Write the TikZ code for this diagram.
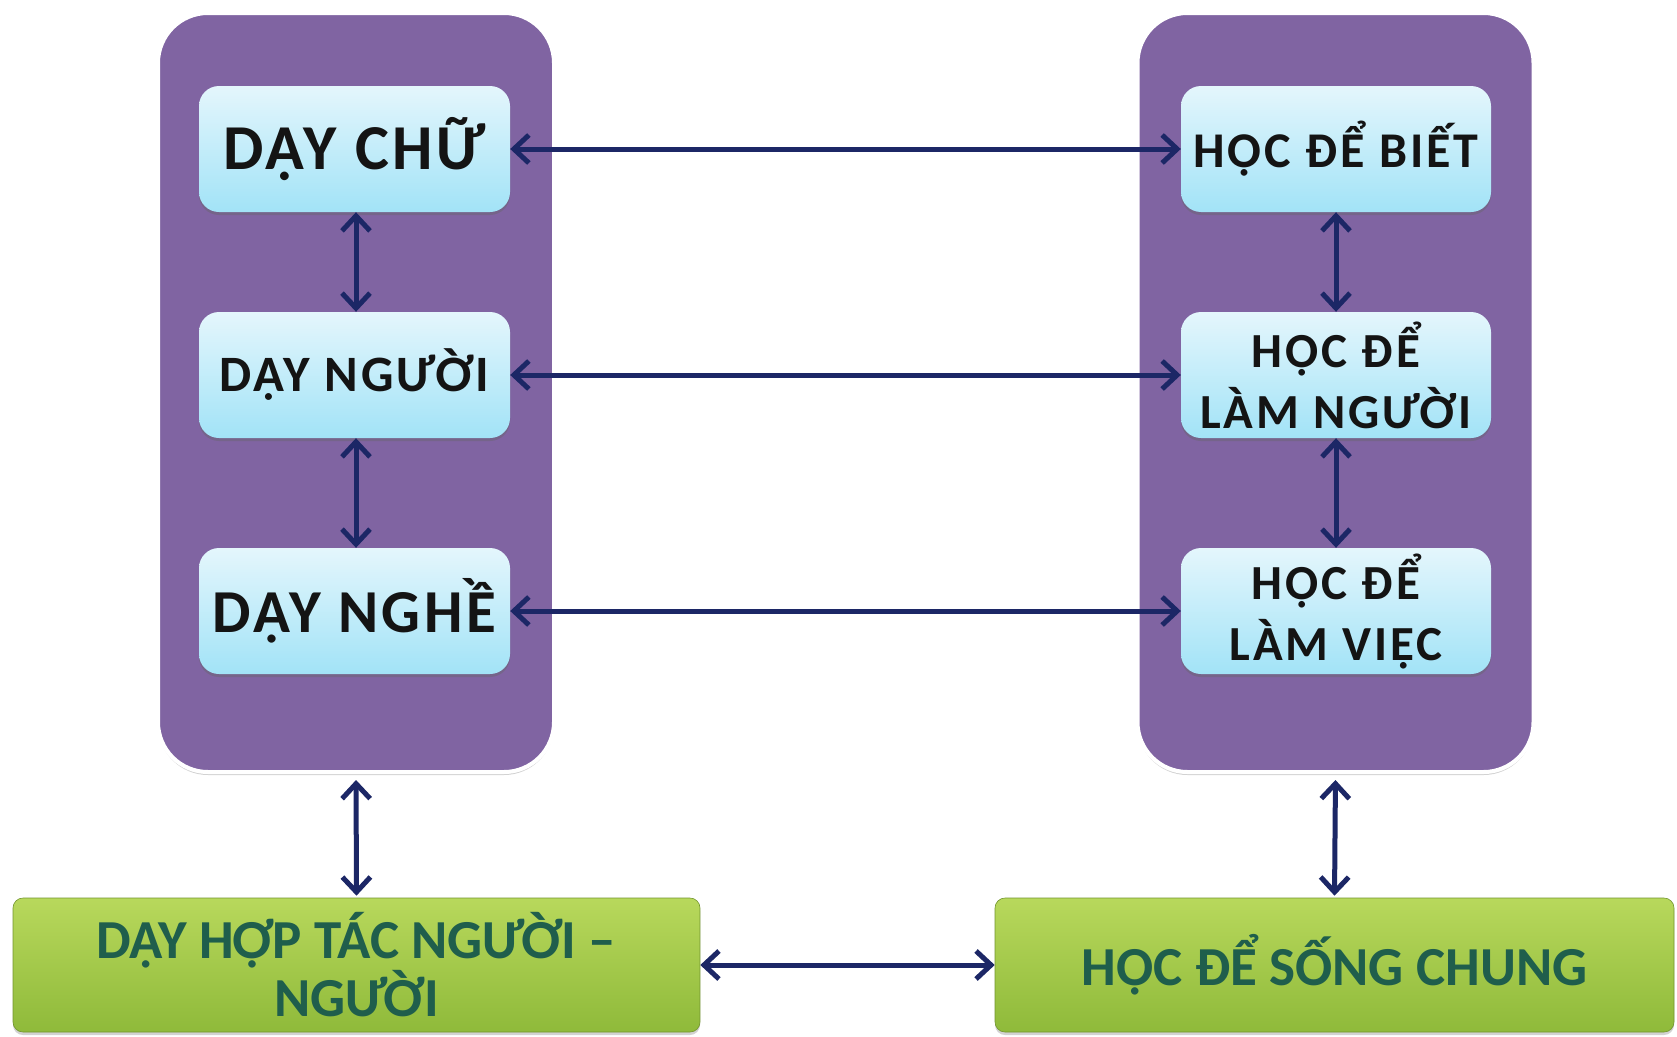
\documentclass[tikz,border=0pt]{standalone}
\usepackage{fontspec}
\setmainfont{Carlito}
\newfontfamily\widefont[LetterSpace=6]{Carlito}
\usetikzlibrary{arrows.meta,shadows}
\definecolor{panelpurple}{HTML}{8064A2}
\definecolor{boxtop}{HTML}{E4F6FC}
\definecolor{boxbot}{HTML}{A2E3F7}
\definecolor{greentop}{HTML}{B8D85C}
\definecolor{greenbot}{HTML}{8FBA3A}
\definecolor{greentext}{HTML}{1F5E4C}
\definecolor{arrowblue}{HTML}{1C2766}
\tikzset{
  panel/.style={draw=white, line width=4pt, fill=panelpurple, rounded corners=50pt,
    minimum width=396pt, minimum height=759pt, inner sep=0pt,
    drop shadow={shadow xshift=0pt, shadow yshift=-3pt, opacity=0.35, fill=gray}},
  bluebox/.style={rounded corners=20pt, top color=boxtop, bottom color=boxbot,
    draw=none, minimum width=310pt, minimum height=126pt, inner sep=0pt, align=center,
    text=black!92,
    drop shadow={shadow xshift=0pt, shadow yshift=-3pt, opacity=0.4, fill=black!60}},
  greenbox/.style={rounded corners=10pt, top color=greentop, bottom color=greenbot,
    draw=greenbot!80!black, line width=0.6pt, minimum height=134pt, inner sep=0pt,
    align=center, text=greentext,
    font={\bfseries\fontsize{55}{58}\selectfont},
    drop shadow={shadow xshift=0pt, shadow yshift=-3pt, opacity=0.35, fill=gray}},
  link/.style={draw=arrowblue, line width=5pt,
    {Straight Barb[length=15pt,width=28pt,line width=5pt]}-{Straight Barb[length=15pt,width=28pt,line width=5pt]}}
}
\newcommand{\fsz}[2]{\widefont\bfseries\fontsize{#1}{#2}\selectfont}
\begin{document}
\begin{tikzpicture}[x=1pt,y=-1pt]
\useasboundingbox (0,0) rectangle (1677,1036);
\fill[white] (0,0) rectangle (1677,1036);
% panels
\node[panel] (lp) at (356,392.5) {};
\node[panel] (rp) at (1335.5,392.5) {};
% left boxes
\node[bluebox, minimum width=311pt, font={\fsz{64}{70}}] (l1) at (354.5,149) {DẠY CHỮ};
\node[bluebox, minimum width=311pt, font={\fsz{51}{60}}] (l2) at (354.5,375) {DẠY NGƯỜI};
\node[bluebox, minimum width=311pt, font={\fsz{61}{66}}] (l3) at (354.5,611) {DẠY NGHỀ};
% right boxes
\node[bluebox, font={\fsz{50}{60}}] (r1) at (1336,149) {HỌC ĐỂ BIẾT};
\node[bluebox, font={\fsz{49}{61}}] (r2) at (1336,375) {HỌC ĐỂ\\LÀM NGƯỜI};
\node[bluebox, font={\fsz{49}{61}}] (r3) at (1336,611) {HỌC ĐỂ\\LÀM VIỆC};
% green boxes
\node[greenbox, minimum width=687pt] (lg) at (356.5,965) {DẠY HỢP TÁC NGƯỜI –\\NGƯỜI};
\node[greenbox, minimum width=679pt] (rg) at (1334.5,965) {HỌC ĐỂ SỐNG CHUNG};
% arrows
\draw[link] (l1.east) -- (r1.west);
\draw[link] (l2.east) -- (r2.west);
\draw[link] (l3.east) -- (r3.west);
\draw[link] (l1.south -| lp.center) -- (l2.north -| lp.center);
\draw[link] (l2.south -| lp.center) -- (l3.north -| lp.center);
\draw[link] (r1.south) -- (r2.north);
\draw[link] (r2.south) -- (r3.north);
\draw[link, shorten <=6pt, shorten >=2pt] (lp.south) -- (lg.north);
\draw[link, shorten <=6pt, shorten >=2pt] (rp.south) -- (rg.north);
\draw[link] (lg.east) -- (rg.west);
\end{tikzpicture}
\end{document}
